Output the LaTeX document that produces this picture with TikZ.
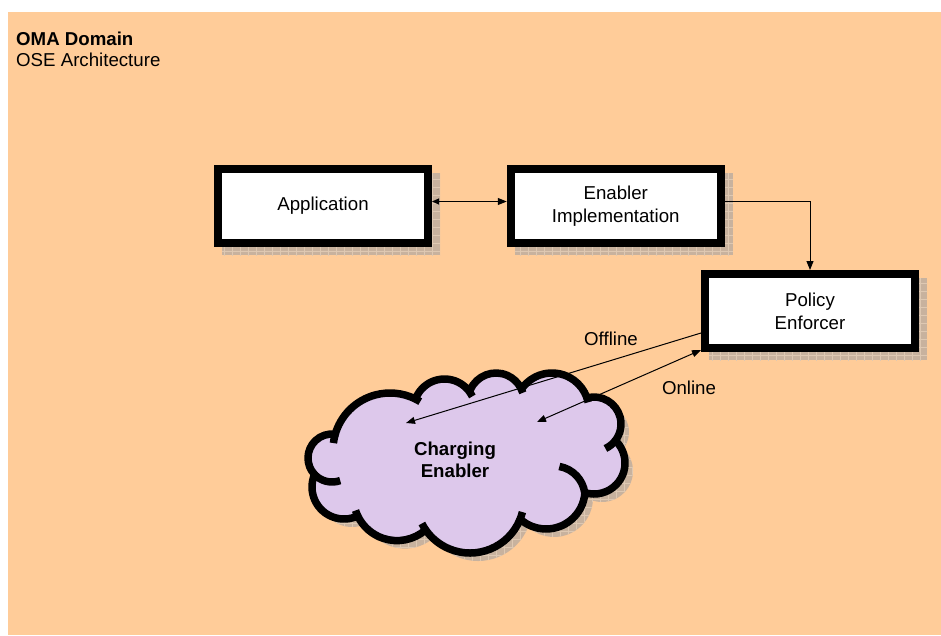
\documentclass[tikz,border=0pt]{standalone}
\usepackage{fontspec}
\setmainfont{Liberation Sans}
\usetikzlibrary{arrows.meta,patterns.meta,backgrounds}
\definecolor{bgorange}{RGB}{255,204,153}
\definecolor{cloudfill}{RGB}{221,200,235}
\definecolor{shadowc}{RGB}{200,178,158}
\definecolor{shadowgrid}{RGB}{222,200,178}
\newcommand\pf[5]{-- ({#1+#3*cos(#4)},{-#2-#3*sin(#4)}) arc[start angle={-#4},end angle={-#5},radius=#3]}
\newcommand\stub[5]{\draw[cloudline] ({#1+#3*cos(#4)},{-#2-#3*sin(#4)}) arc[start angle={-#4},end angle={-#5},radius=#3];}
\newcommand\cloudpath{(314.6,-474.5)
 \pf{332}{458}{24}{136.5}{277}
 \pf{390}{450}{57}{195.3}{295.7}
 \pf{444.5}{410}{31}{206}{324.4}
 \pf{496}{401}{28}{204}{332.5}
 \pf{552}{410}{37}{216.3}{339.6}
 \pf{594}{424}{27}{255.5}{397.6}
 \pf{594}{463}{31}{313.6}{466.7}
 \pf{546}{490}{39}{4.4}{127.7}
 \pf{470}{499}{54}{22.8}{144.8}
 \pf{397}{497}{43.6}{48.7}{152.9}
 \pf{344}{487}{32}{65}{203}
 -- cycle}
\begin{document}
\begin{tikzpicture}[x=1pt,y=1pt,
  box/.style={draw=black, fill=white, line width=8pt, minimum width=210pt, minimum height=74pt,
    inner sep=0pt, align=center, font=\fontsize{18.67}{23}\selectfont},
  shadowstyle/.style={fill=shadowc, postaction={pattern={Hatch[angle=0,distance=8pt,line width=0.7pt]}, pattern color=shadowgrid}},
  cloudline/.style={draw=black, line width=7.5pt},
  lbl/.style={font=\fontsize{18.67}{22}\selectfont, inner sep=0pt},
  conn/.style={draw=black, line width=1pt},
  tip/.tip={Triangle[length=9pt,width=7pt]}
]
\useasboundingbox (0,0) rectangle (941,-635);

\node[box] (app) at (323,-206) {Application};
\node[box] (enab) at (615.75,-206) {Enabler\\Implementation};
\node[box] (pol) at (810,-311) {Policy\\Enforcer};

\begin{scope}[on background layer]
  \fill[bgorange] (8,-12) rectangle (941,-635);
  \path[shadowstyle] ([shift={(8,-8)}]app.north west) rectangle ([shift={(8,-8)}]app.south east);
  \path[shadowstyle] ([shift={(8,-8)}]enab.north west) rectangle ([shift={(8,-8)}]enab.south east);
  \path[shadowstyle] ([shift={(8,-8)}]pol.north west) rectangle ([shift={(8,-8)}]pol.south east);
\end{scope}

\begin{scope}[shift={(8,-8)}]
  \path[shadowstyle] \cloudpath;
\end{scope}
\path[fill=cloudfill, cloudline, line join=round] \cloudpath;
\stub{390}{450}{57}{187}{195.3}
\stub{390}{450}{57}{295.7}{302}
\stub{444.5}{410}{31}{324.4}{334}
\stub{496}{401}{28}{332.5}{343}
\stub{552}{410}{37}{339.6}{348}
\stub{594}{424}{27}{397.6}{425}
\stub{554}{497}{31}{280}{352.6}
\stub{470}{499}{54}{14}{22.8}
\stub{470}{499}{54}{144.8}{153}
\stub{397}{497}{43.6}{152.9}{162}
\stub{332}{458}{24}{70}{136.5}

\node[anchor=base west, font=\bfseries\fontsize{18.67}{22}\selectfont, inner sep=0pt] (oma) at (16,-45) {OMA Domain};
\node[anchor=base west, font=\fontsize{18.67}{22}\selectfont, inner sep=0pt] (ose) at (16,-66.5) {OSE Architecture};

\node[align=center, font=\bfseries\fontsize{18.67}{22}\selectfont, inner sep=0pt] (ce) at (455,-460) {Charging\\Enabler};
\node[lbl] (off) at (611,-339) {Offline};
\node[lbl] (on) at (689,-388) {Online};

\coordinate (offend) at (406,-423);
\coordinate (onend) at (537,-422);

\draw[conn, {Triangle[length=7pt,width=6pt]}-tip] ([yshift=4.5]app.east) -- ([yshift=4.5]enab.west);
\draw[conn, -tip] ([yshift=5]enab.east) -| (pol.north);
\draw[conn, -tip] ([yshift=-22]pol.west) -- (offend);
\draw[conn, tip-tip] ([yshift=2]pol.south west) -- (onend);
\end{tikzpicture}
\end{document}
